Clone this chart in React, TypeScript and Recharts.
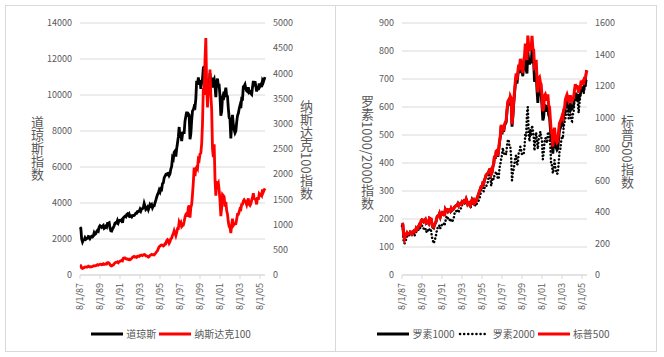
import React from "react"
import { LineChart, Line, XAxis, YAxis, CartesianGrid } from "recharts"

// monthly closes, 8/1987 .. 2/2006
const dow = [
  2662, 2596, 1994, 1834, 1939,
  1958, 2072, 1988, 2032, 2031, 2142, 2129, 2032, 2112, 2149, 2115, 2169,
  2342, 2258, 2294, 2419, 2480, 2440, 2661, 2737, 2693, 2645, 2706, 2753,
  2591, 2627, 2707, 2657, 2877, 2881, 2905, 2614, 2453, 2442, 2560, 2634,
  2736, 2882, 2914, 2888, 3028, 2907, 3025, 3044, 3017, 3069, 2895, 3169,
  3224, 3268, 3236, 3359, 3397, 3319, 3394, 3257, 3272, 3227, 3305, 3301,
  3310, 3370, 3435, 3428, 3527, 3516, 3540, 3651, 3555, 3681, 3684, 3754,
  3978, 3832, 3636, 3682, 3758, 3625, 3765, 3913, 3843, 3908, 3739, 3834,
  3844, 4011, 4158, 4321, 4465, 4556, 4709, 4611, 4789, 4756, 5075, 5117,
  5395, 5486, 5587, 5569, 5643, 5655, 5529, 5616, 5882, 6029, 6522, 6448,
  6813, 6878, 6584, 7009, 7331, 7673, 8223, 7622, 7945, 7442, 7823, 7908,
  7907, 8546, 8800, 9063, 8900, 8952, 8883, 7539, 7843, 8592, 9117, 9181,
  9359, 9307, 9786, 10789, 10560, 10971, 10655, 10829, 10337, 10730, 10878, 11497,
  11600, 10128, 10922, 10734, 10522, 10448, 10522, 11215, 10651, 10971, 10415, 10787,
  10887, 10495, 9879, 10735, 10912, 10502, 10523, 9950, 8848, 9075, 9852, 10022,
  9920, 10106, 10404, 9946, 9925, 9243, 8737, 8664, 7592, 8397, 8896, 8342,
  8054, 7891, 7992, 8480, 8850, 8985, 9234, 9416, 9275, 9801, 9782, 10454,
  10488, 10584, 10358, 10226, 10188, 10435, 10140, 10174, 10080, 10027, 10428, 10783,
  10490, 10766, 10504, 10193, 10467, 10275, 10641, 10482, 10569, 10440, 10806, 10718,
  10865, 10993,
]

const ndx = [
  190, 185, 140, 130, 140,
  150, 160, 158, 162, 160, 175, 168, 160, 165, 163, 168, 177,
  186, 182, 186, 195, 205, 195, 205, 212, 213, 205, 210, 223,
  208, 212, 222, 220, 245, 245, 232, 205, 185, 180, 195, 200,
  222, 240, 250, 250, 262, 245, 262, 275, 280, 290, 282, 330,
  338, 340, 322, 318, 320, 305, 315, 302, 312, 330, 352, 361,
  370, 355, 362, 350, 372, 375, 370, 385, 390, 395, 385, 398,
  405, 400, 380, 378, 370, 355, 365, 390, 395, 410, 402, 404,
  400, 420, 440, 465, 480, 525, 560, 570, 590, 595, 590, 576,
  585, 620, 620, 680, 700, 680, 630, 660, 720, 730, 790, 822,
  880, 830, 780, 840, 920, 920, 1050, 1010, 1040, 960, 980, 990,
  1060, 1150, 1200, 1220, 1160, 1340, 1380, 1140, 1340, 1400, 1600, 1836,
  2130, 1960, 2110, 2140, 2110, 2300, 2280, 2400, 2420, 2600, 3000, 3708,
  3570, 4267, 4700, 3774, 3324, 3763, 3609, 4077, 3570, 3283, 2507, 2341,
  2593, 1908, 1573, 1855, 1799, 1830, 1683, 1469, 1169, 1329, 1597, 1577,
  1550, 1359, 1452, 1277, 1208, 1051, 962, 942, 833, 990, 1116, 984,
  1009, 1016, 1018, 1106, 1201, 1201, 1255, 1315, 1303, 1400, 1403, 1468,
  1494, 1471, 1439, 1394, 1467, 1517, 1400, 1380, 1412, 1485, 1539, 1621,
  1519, 1504, 1483, 1400, 1542, 1494, 1605, 1580, 1601, 1578, 1699, 1645,
  1685, 1720,
]

const r1000 = [
  185, 180, 141, 129, 138,
  144, 150, 146, 147, 147, 154, 153, 147, 152, 156, 153, 156,
  166, 162, 166, 174, 180, 178, 193, 197, 195, 190, 193, 197,
  184, 186, 190, 185, 202, 200, 198, 180, 170, 168, 179, 184,
  192, 206, 211, 211, 219, 208, 218, 222, 218, 221, 211, 235,
  230, 232, 227, 232, 233, 228, 237, 231, 234, 236, 243, 246,
  248, 249, 255, 248, 254, 255, 253, 262, 260, 264, 260, 263,
  271, 263, 251, 254, 257, 250, 258, 268, 261, 266, 256, 259,
  264, 274, 281, 289, 299, 306, 316, 316, 328, 326, 340, 346,
  357, 360, 363, 368, 376, 377, 359, 366, 386, 396, 424, 415,
  439, 441, 422, 446, 473, 493, 532, 502, 529, 511, 532, 540,
  545, 584, 613, 619, 606, 630, 622, 530, 563, 608, 645, 681,
  708, 684, 711, 740, 721, 760, 736, 730, 710, 755, 770, 768,
  733, 720, 800, 770, 752, 770, 756, 805, 763, 757, 690, 700,
  722, 658, 615, 663, 667, 652, 643, 603, 552, 563, 606, 605,
  596, 583, 607, 571, 565, 524, 483, 485, 433, 470, 497, 466,
  455, 447, 452, 489, 517, 524, 534, 545, 539, 570, 575, 595,
  607, 615, 606, 594, 602, 614, 592, 594, 600, 609, 634, 651,
  633, 647, 634, 620, 642, 644, 668, 661, 666, 655, 680, 679,
  697, 698,
]

const r2000 = [
  175, 170, 118, 113, 121,
  127, 136, 143, 145, 142, 151, 149, 144, 149, 146, 140, 147,
  154, 154, 158, 164, 171, 167, 172, 176, 176, 165, 166, 168,
  153, 158, 163, 155, 163, 166, 156, 135, 123, 113, 121, 132,
  145, 161, 171, 170, 178, 167, 173, 180, 181, 185, 176, 190,
  205, 211, 203, 197, 199, 190, 196, 190, 195, 201, 219, 221,
  229, 223, 231, 224, 234, 236, 239, 250, 257, 264, 255, 259,
  268, 267, 252, 253, 250, 241, 245, 259, 258, 256, 246, 250,
  247, 257, 261, 266, 271, 285, 302, 308, 313, 299, 311, 316,
  315, 325, 332, 350, 364, 349, 318, 336, 348, 342, 356, 362,
  369, 360, 343, 344, 382, 396, 415, 429, 454, 435, 432, 437,
  430, 462, 481, 484, 458, 457, 420, 338, 364, 378, 398, 422,
  427, 393, 398, 434, 440, 458, 445, 430, 430, 432, 457, 505,
  497, 578, 600, 507, 477, 518, 496, 534, 519, 495, 444, 484,
  509, 476, 450, 485, 497, 512, 494, 478, 413, 437, 474, 489,
  484, 471, 506, 511, 488, 463, 393, 392, 363, 375, 410, 383,
  372, 361, 364, 399, 440, 449, 477, 496, 487, 528, 546, 557,
  580, 585, 591, 559, 567, 591, 551, 549, 572, 584, 634, 651,
  624, 634, 615, 579, 616, 639, 679, 669, 667, 647, 679, 673,
  733, 730,
]

const sp500 = [
  330, 322, 252, 230, 247,
  257, 268, 259, 261, 262, 274, 272, 262, 272, 279, 274, 278,
  297, 289, 295, 310, 321, 318, 346, 351, 349, 340, 346, 353,
  329, 332, 340, 331, 361, 358, 356, 323, 306, 304, 322, 330,
  344, 367, 375, 375, 390, 371, 388, 395, 388, 392, 375, 417,
  409, 413, 404, 415, 415, 408, 424, 414, 418, 419, 431, 436,
  439, 443, 452, 440, 450, 451, 448, 464, 459, 468, 462, 466,
  482, 467, 446, 451, 457, 444, 458, 475, 463, 472, 454, 459,
  470, 487, 501, 515, 533, 545, 562, 562, 584, 582, 605, 616,
  636, 640, 646, 654, 669, 671, 640, 652, 687, 705, 757, 741,
  786, 791, 757, 801, 848, 885, 954, 899, 947, 915, 955, 970,
  980, 1049, 1102, 1112, 1091, 1134, 1121, 957, 1017, 1099, 1164, 1229,
  1280, 1238, 1286, 1335, 1302, 1373, 1329, 1320, 1283, 1363, 1389, 1469,
  1394, 1366, 1520, 1452, 1421, 1455, 1431, 1518, 1437, 1429, 1315, 1320,
  1366, 1240, 1160, 1249, 1256, 1224, 1211, 1134, 1041, 1060, 1139, 1148,
  1130, 1107, 1147, 1077, 1067, 990, 912, 916, 815, 886, 936, 880,
  856, 841, 848, 917, 964, 975, 990, 1008, 996, 1051, 1058, 1112,
  1131, 1145, 1126, 1107, 1121, 1141, 1102, 1104, 1115, 1130, 1174, 1212,
  1181, 1204, 1181, 1157, 1192, 1191, 1234, 1220, 1229, 1207, 1249, 1248,
  1280, 1300,
]

// month labels 8/1/87 .. 2/1/06
const dates: string[] = []
for (let y = 1987, m = 8; y < 2006 || m <= 2; ) {
  dates.push(`${m}/1/${String(y).slice(2)}`)
  m++
  if (m > 12) { m = 1; y++ }
}

const dowTicks = [0, 2000, 4000, 6000, 8000, 10000, 12000, 14000]
const ndxTicks = [0, 500, 1000, 1500, 2000, 2500, 3000, 3500, 4000, 4500, 5000]
const russellTicks = [0, 100, 200, 300, 400, 500, 600, 700, 800, 900]
const spTicks = [0, 200, 400, 600, 800, 1000, 1200, 1400, 1600]

const leftData = dates.map((d, i) => ({ date: d, dow: dow[i], ndx: ndx[i] }))
const rightData = dates.map((d, i) => ({ date: d, r1000: r1000[i], r2000: r2000[i], sp: sp500[i] }))

const GREY = "#595959"
const GRID = "#d9d9d9"
const FONT = "'Noto Sans CJK SC', 'Noto Sans', sans-serif"

const DateTick = ({ x, y, payload }: any) => (
  <g transform={`translate(${x},${y + 2})`}>
    <text x={0} y={0} dy={3} textAnchor="end" transform="rotate(-90)" fontSize={9} fill={GREY}>
      {payload.value}
    </text>
  </g>
)

const axisTick = { fontSize: 9, fill: GREY }

// vertical axis title: CJK upright, digit runs turned sideways
const VTitle = ({ left, top, text }: { left: number; top: number; text: string }) => (
  <div
    style={{
      position: "absolute", left: left - 10, top, width: 20, height: 130,
      writingMode: "vertical-rl", fontSize: 13, color: GREY, lineHeight: "20px",
      whiteSpace: "nowrap", textAlign: "start",
    }}
  >
    {text}
  </div>
)

const LegendItem = ({ color, label, dotted }: { color: string; label: string; dotted?: boolean }) => (
  <div style={{ display: "flex", alignItems: "center", marginRight: 3, flexShrink: 0, whiteSpace: "nowrap" }}>
    <svg width={32} height={8}>
      {dotted ? (
        <line x1={2} y1={4} x2={30} y2={4} stroke={color} strokeWidth={2.5} strokeDasharray="0.1 4" strokeLinecap="round" />
      ) : (
        <line x1={0} y1={4} x2={32} y2={4} stroke={color} strokeWidth={3} />
      )}
    </svg>
    <span style={{ marginLeft: 3, fontSize: 10, color: GREY }}>{label}</span>
  </div>
)

export default function App() {
  return (
    <div style={{ position: "absolute", left: 0, top: 0, width: 664, height: 357, background: "#fff", fontFamily: FONT }}>
      <div style={{ position: "absolute", left: 5, top: 5, width: 330, height: 345, border: `1px solid ${GRID}`, borderRight: "none" }} />
      <div style={{ position: "absolute", left: 335, top: 5, width: 320, height: 345, border: `1px solid ${GRID}` }} />

      <div style={{ position: "absolute", left: 5, top: 5 }}>
        <LineChart width={331} height={346} data={leftData} margin={{ top: 18, right: 26, bottom: 40, left: 30 }}>
          <CartesianGrid yAxisId="l" vertical={false} stroke={GRID} />
          <XAxis dataKey="date" interval={23} tick={<DateTick />} height={36} stroke={GRID} tickSize={4} />
          <YAxis yAxisId="l" domain={[0, 14000]} ticks={dowTicks} width={45} axisLine={false} tickLine={false} tick={axisTick} />
          <YAxis yAxisId="r" orientation="right" domain={[0, 5000]} ticks={ndxTicks} width={45} axisLine={false} tickLine={false} tick={axisTick} />
          <Line yAxisId="l" dataKey="dow" stroke="#000" strokeWidth={2.8} dot={false} isAnimationActive={false} />
          <Line yAxisId="r" dataKey="ndx" stroke="#ff0000" strokeWidth={2.8} dot={false} isAnimationActive={false} />
        </LineChart>
      </div>

      <div style={{ position: "absolute", left: 336, top: 5 }}>
        <LineChart width={320} height={346} data={rightData} margin={{ top: 18, right: 29, bottom: 40, left: 26 }}>
          <CartesianGrid yAxisId="l" vertical={false} stroke={GRID} />
          <XAxis dataKey="date" interval={23} tick={<DateTick />} height={36} stroke={GRID} tickSize={4} />
          <YAxis yAxisId="l" domain={[0, 900]} ticks={russellTicks} width={40} axisLine={false} tickLine={false} tick={axisTick} />
          <YAxis yAxisId="r" orientation="right" domain={[0, 1600]} ticks={spTicks} width={40} axisLine={false} tickLine={false} tick={axisTick} />
          <Line yAxisId="l" dataKey="r1000" stroke="#000" strokeWidth={2.8} dot={false} isAnimationActive={false} />
          <Line yAxisId="l" dataKey="r2000" stroke="#000" strokeWidth={2.5} strokeDasharray="0.1 3.5" strokeLinecap="round" dot={false} isAnimationActive={false} />
          <Line yAxisId="r" dataKey="sp" stroke="#ff0000" strokeWidth={3} dot={false} isAnimationActive={false} />
        </LineChart>
      </div>

      <VTitle left={37} top={116} text="道琼斯指数" />
      <VTitle left={306} top={100} text="纳斯达克100指数" />
      <VTitle left={367} top={95} text="罗素1000/2000指数" />
      <VTitle left={627} top={115} text="标普500指数" />

      <div style={{ position: "absolute", left: 60, width: 225, top: 326, display: "flex", justifyContent: "center" }}>
        <LegendItem color="#000" label="道琼斯" />
        <LegendItem color="#ff0000" label="纳斯达克100" />
      </div>
      <div style={{ position: "absolute", left: 360, width: 270, top: 326, display: "flex", justifyContent: "center" }}>
        <LegendItem color="#000" label="罗素1000" />
        <LegendItem color="#000" label="罗素2000" dotted />
        <LegendItem color="#ff0000" label="标普500" />
      </div>
    </div>
  )
}
